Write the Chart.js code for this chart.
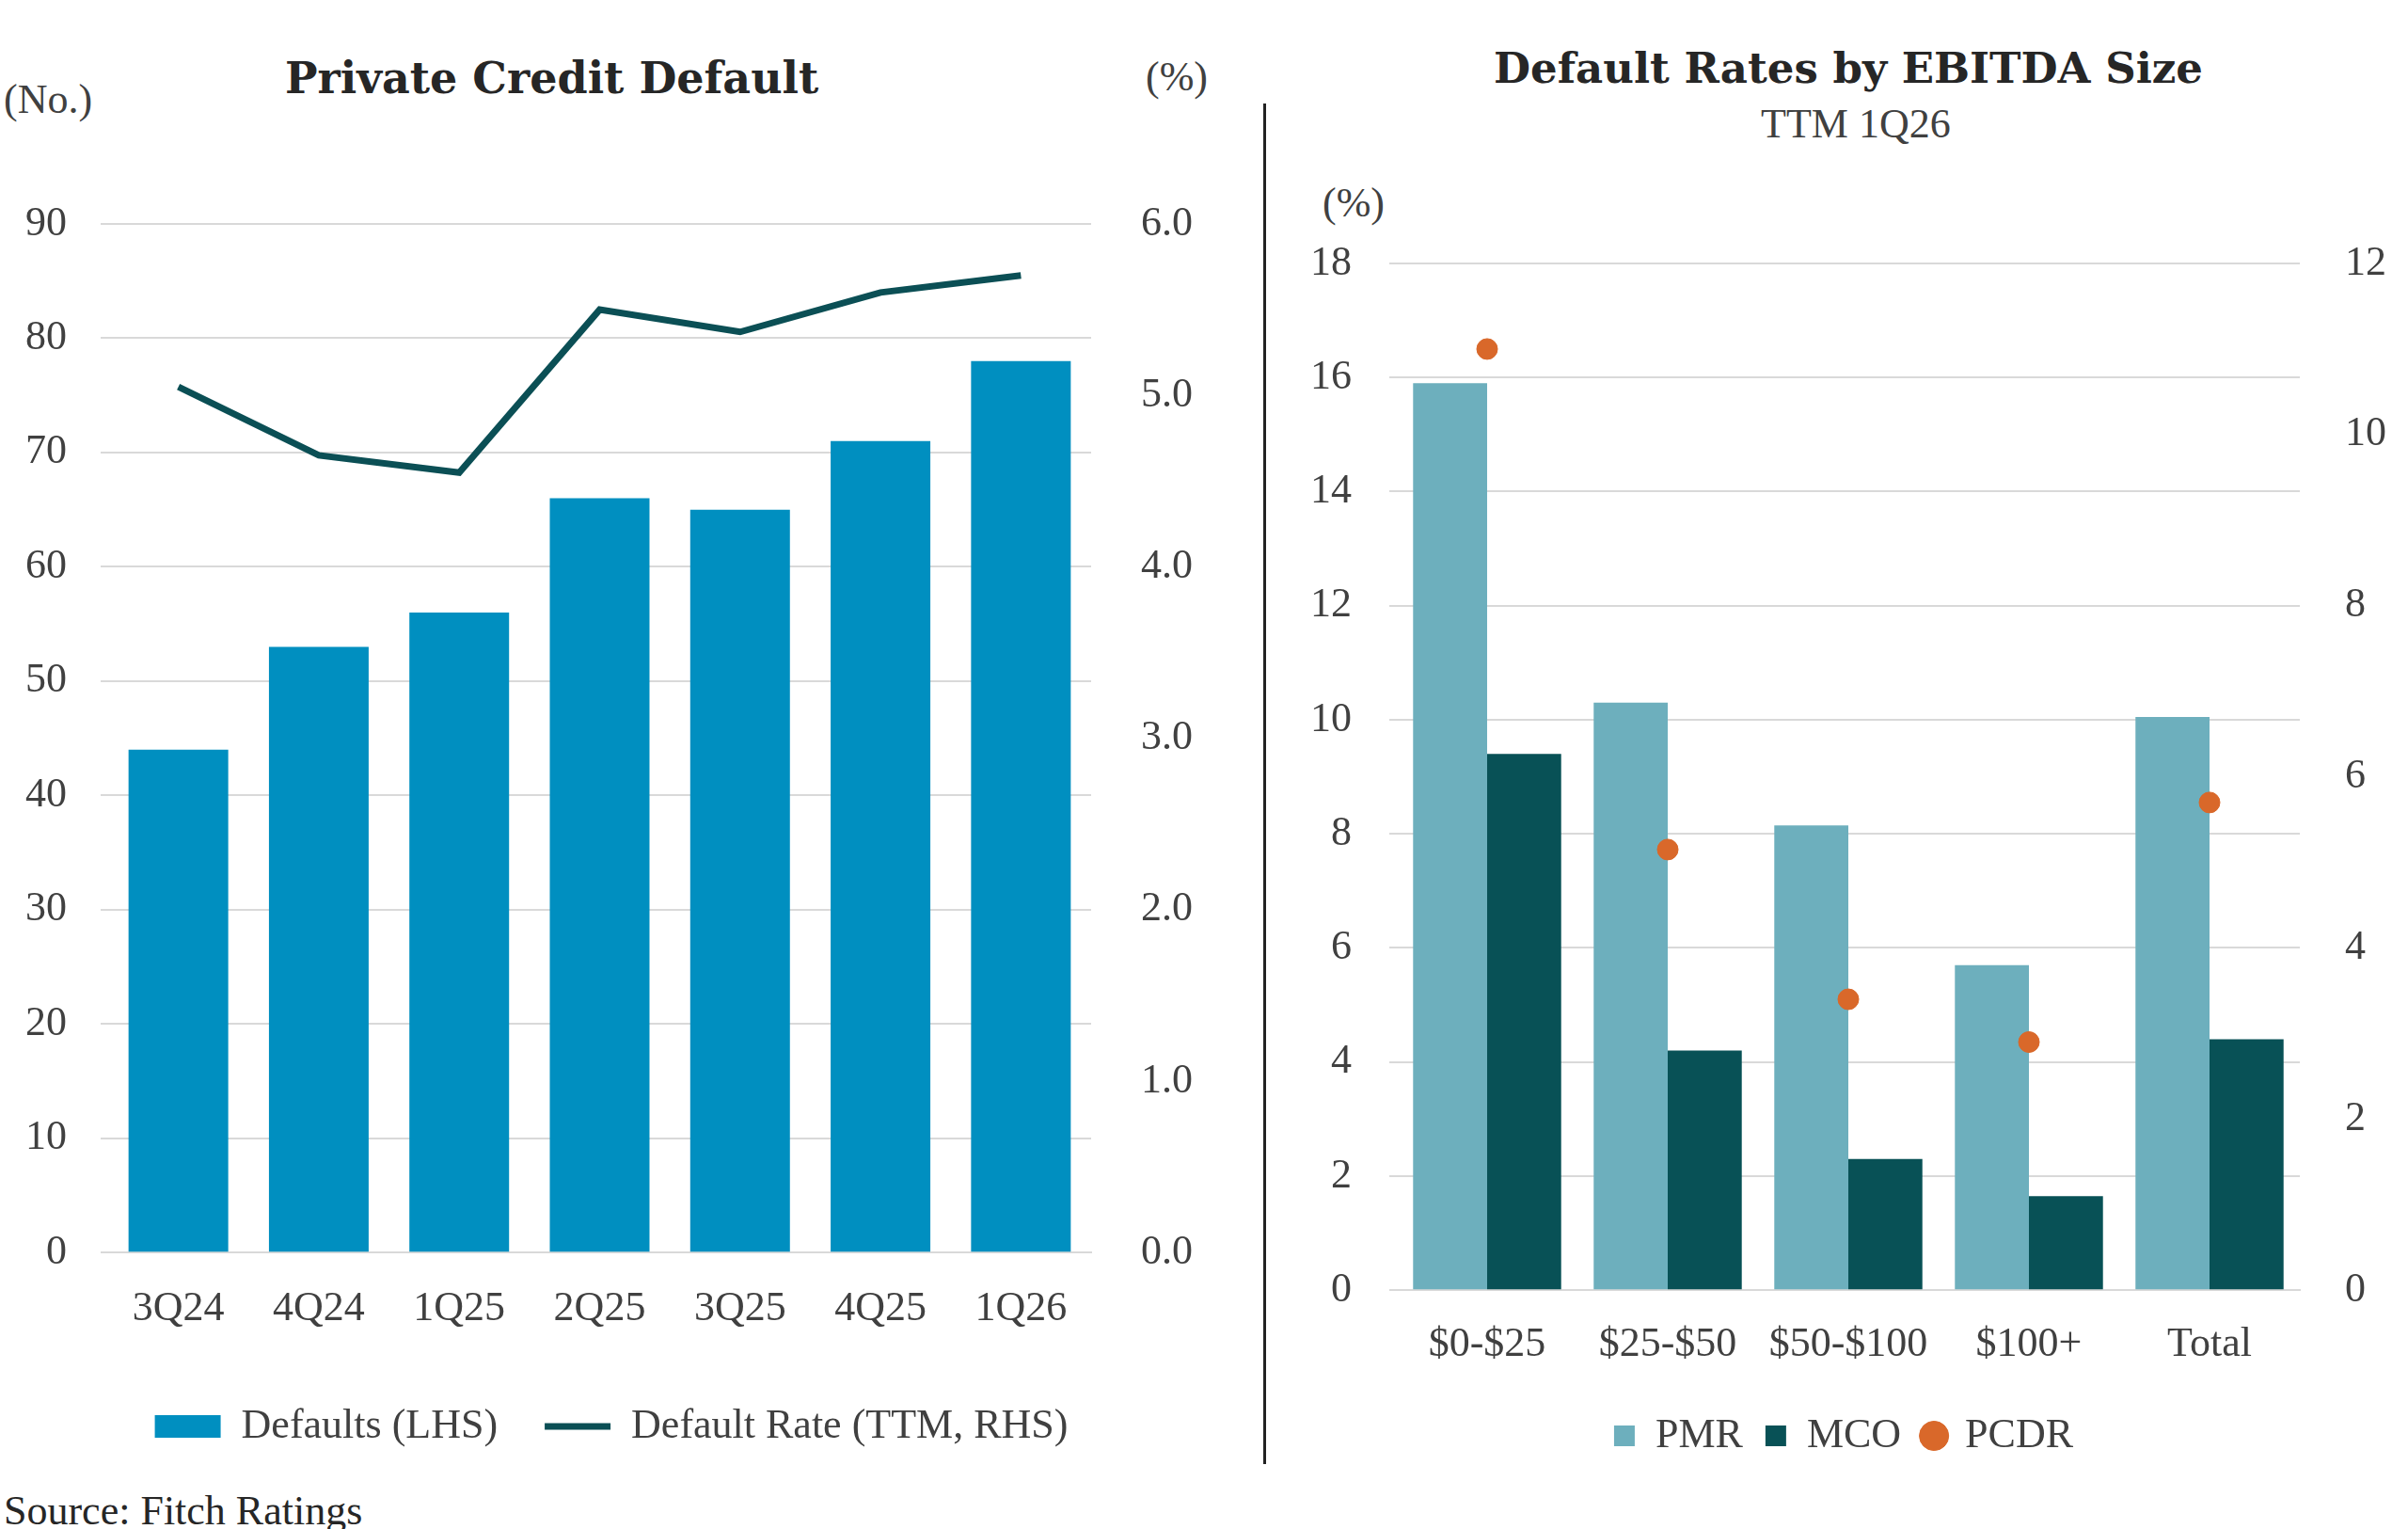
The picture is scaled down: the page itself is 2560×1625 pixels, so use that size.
<!DOCTYPE html>
<html>
<head>
<meta charset="utf-8">
<script src="https://cdn.jsdelivr.net/npm/chart.js@4"></script>
<style>
  body { margin: 0; background: #fff; width: 2560px; height: 1625px; position: relative; overflow: hidden; font-family: "Liberation Serif", serif; color: #404040; }
  .t { position: absolute; white-space: nowrap; }
  .h { font-family: "DejaVu Serif", serif; font-weight: bold; color: #262626; }
  canvas { position: absolute; }
</style>
</head>
<body>
<div class="t h" style="left:303px;top:56px;font-size:46px">Private Credit Default</div>
<div class="t" style="left:4px;top:80px;font-size:44px">(No.)</div>
<div class="t" style="left:1218px;top:56px;font-size:44px">(%)</div>
<div class="t h" style="left:1588px;top:46px;font-size:45px">Default Rates by EBITDA Size</div>
<div class="t" style="left:1872px;top:106px;font-size:44px">TTM 1Q26</div>
<div class="t" style="left:1406px;top:190px;font-size:44px">(%)</div>
<div class="t" style="left:4px;top:1580px;font-size:44px;color:#262626">Source: Fitch Ratings</div>
<div style="position:absolute;left:1343px;top:110px;width:3px;height:1446px;background:#222"></div>
<canvas id="left" style="left:0;top:0"></canvas>
<canvas id="right" style="left:1360px;top:0"></canvas>
<script>
// Gráfico esquerdo
const quarters = ['3Q24', '4Q24', '1Q25', '2Q25', '3Q25', '4Q25', '1Q26'];
const defaults = [44, 53, 56, 66, 65, 71, 78];
const defaultRate = [5.05, 4.65, 4.55, 5.5, 5.37, 5.6, 5.7];

// Gráfico direito
const sizes = ['$0-$25', '$25-$50', '$50-$100', '$100+', 'Total'];
const pmr = [15.9, 10.3, 8.15, 5.7, 10.05];
const mco = [9.4, 4.2, 2.3, 1.65, 4.4];
const pcdr = [11.0, 5.15, 3.4, 2.9, 5.7];

const txt = '#404040';
Chart.defaults.color = txt;
Chart.defaults.font = { family: 'Liberation Serif', size: 44 };
Chart.defaults.animation = false;

function fixWidth(w) {
    return function (scale) { scale.width = w; };
}

const leftCanvas = document.getElementById('left');
leftCanvas.width = 1320; leftCanvas.height = 1570;
leftCanvas.style.width = '1320px'; leftCanvas.style.height = '1570px';
new Chart(leftCanvas, {
    type: 'bar',
    data: {
        labels: quarters,
        datasets: [
            {
                type: 'line', label: 'Default Rate (TTM, RHS)', data: defaultRate, yAxisID: 'y1',
                borderColor: '#0B4F55', backgroundColor: '#0B4F55', borderWidth: 7,
                pointRadius: 0, tension: 0, pointStyle: 'line', order: 0
            },
            {
                label: 'Defaults (LHS)', data: defaults, yAxisID: 'y',
                backgroundColor: '#008FC0', barPercentage: 0.71, categoryPercentage: 1,
                pointStyle: 'rect', order: 1
            }
        ]
    },
    options: {
        responsive: false,
        layout: { padding: { top: 238, bottom: 22, right: 20 } },
        plugins: {
            tooltip: { enabled: false },
            legend: {
                position: 'bottom', reverse: true,
                labels: { usePointStyle: true, pointStyleWidth: 70, boxHeight: 24, padding: 50, font: { size: 44 }, color: txt }
            }
        },
        scales: {
            x: { grid: { display: false }, border: { color: '#D9D9D9', width: 2 }, ticks: { padding: 26 } },
            y: {
                min: 0, max: 90, ticks: { stepSize: 10, padding: 36 },
                grid: { color: '#D9D9D9', lineWidth: 2 }, border: { display: false },
                afterFit: fixWidth(115)
            },
            y1: {
                position: 'right', min: 0, max: 6, grid: { display: false }, border: { display: false },
                ticks: { stepSize: 1, padding: 45, callback: v => v.toFixed(1) },
                afterFit: fixWidth(140)
            }
        }
    }
});

const rightCanvas = document.getElementById('right');
rightCanvas.width = 1200; rightCanvas.height = 1570;
rightCanvas.style.width = '1200px'; rightCanvas.style.height = '1570px';
new Chart(rightCanvas, {
    type: 'bar',
    data: {
        labels: sizes,
        datasets: [
            {
                type: 'scatter', label: 'PCDR', data: pcdr, yAxisID: 'y1', xAxisID: 'x',
                backgroundColor: '#D9682A', borderColor: '#D9682A', pointRadius: 11, pointStyle: 'circle', order: 0
            },
            { label: 'PMR', data: pmr, backgroundColor: '#6DAFBD', barPercentage: 1, categoryPercentage: 0.82, pointStyle: 'rect', order: 1 },
            { label: 'MCO', data: mco, backgroundColor: '#085156', barPercentage: 1, categoryPercentage: 0.82, pointStyle: 'rect', order: 1 }
        ]
    },
    options: {
        responsive: false,
        layout: { padding: { top: 280, bottom: 12 } },
        plugins: {
            tooltip: { enabled: false },
            legend: {
                position: 'bottom',
                labels: {
                    usePointStyle: true, boxHeight: 22, boxWidth: 22, padding: 24, font: { size: 44 }, color: txt,
                    sort: (a, b) => [1, 2, 0].indexOf(a.datasetIndex) - [1, 2, 0].indexOf(b.datasetIndex)
                }
            }
        },
        scales: {
            x: {
                type: 'category', offset: true, grid: { display: false }, border: { color: '#D9D9D9', width: 2 },
                ticks: { padding: 24, maxRotation: 0, minRotation: 0, autoSkip: false }
            },
            y: {
                min: 0, max: 18, ticks: { stepSize: 2, padding: 40 },
                grid: { color: '#D9D9D9', lineWidth: 2 }, border: { display: false },
                afterFit: fixWidth(125)
            },
            y1: {
                position: 'right', min: 0, max: 12, grid: { display: false }, border: { display: false },
                ticks: { stepSize: 2, padding: 40 },
                afterFit: fixWidth(115)
            }
        }
    }
});
</script>
</body>
</html>
